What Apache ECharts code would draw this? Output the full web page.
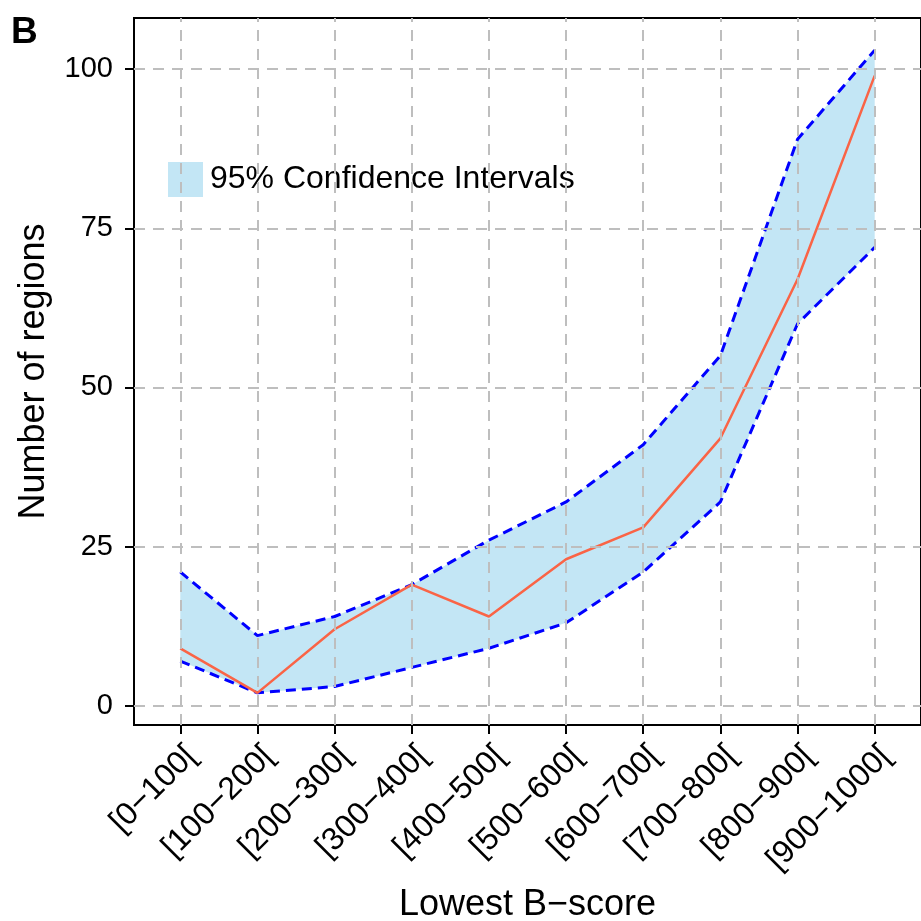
<!DOCTYPE html>
<html>
<head>
<meta charset="utf-8">
<script src="https://cdn.jsdelivr.net/npm/echarts@6/dist/echarts.min.js"></script>
<style>
  html, body { margin: 0; padding: 0; background: #fff; }
  #chart { width: 921px; height: 921px; }
</style>
</head>
<body>
<div id="chart"></div>
<script>
// Score bins and counts of regions per bin
const categories = ['[0−100[', '[100−200[', '[200−300[', '[300−400[', '[400−500[',
                    '[500−600[', '[600−700[', '[700−800[', '[800−900[', '[900−1000['];
const meanCount = [9, 2, 12, 19, 14, 23, 28, 42, 67, 99];
const ciLower   = [7, 2, 3, 6, 9, 13, 21, 32, 60, 72];
const ciUpper   = [21, 11, 14, 19, 26, 32, 41, 55, 89, 103];
const yTicks    = [0, 25, 50, 75, 100];
const bandName  = '95% Confidence Intervals';

const FONT = '"Liberation Sans", Arial, Helvetica, sans-serif';
const idx = categories.map((c, i) => i);
const pairs = arr => arr.map((v, i) => [i, v]);
const BAND_FILL = 'rgba(135,206,235,0.5)';

const chart = echarts.init(document.getElementById('chart'), null, { renderer: 'canvas' });

// Confidence band: one polygon along the upper bounds and back along the lower bounds
function renderBand(params, api) {
  if (params.dataIndex !== 0) return null;
  const top = idx.map(i => api.coord([i, ciUpper[i]]));
  const bottom = idx.slice().reverse().map(i => api.coord([i, ciLower[i]]));
  return {
    type: 'polygon',
    shape: { points: top.concat(bottom) },
    style: { fill: BAND_FILL, stroke: null },
    silent: true
  };
}

const option = {
  animation: false,
  backgroundColor: '#ffffff',
  title: {
    text: 'B', left: 11, top: 14, padding: 0,
    textStyle: { fontFamily: FONT, fontWeight: 'bold', fontSize: 37, color: '#000' }
  },
  legend: {
    data: [bandName],
    left: 168, top: 162, padding: 0,
    icon: 'rect', itemWidth: 35, itemHeight: 35,
    selectedMode: false,
    textStyle: { fontFamily: FONT, fontSize: 32, color: '#000', padding: [8, 0, 0, 2] }
  },
  grid: {
    left: 134, right: 0, top: 18, bottom: 196,
    containLabel: false, outerBoundsMode: 'none',
    show: true, borderColor: '#000', borderWidth: 2, backgroundColor: 'transparent'
  },
  xAxis: {
    type: 'value', min: -0.6, max: 9.6,
    name: 'Lowest B−score', nameLocation: 'middle', nameGap: 162,
    nameTextStyle: { fontFamily: FONT, fontSize: 36, color: '#000' },
    axisLine: { show: true, onZero: false, lineStyle: { color: '#000', width: 2 } },
    axisTick: { show: true, customValues: idx, length: 9, lineStyle: { color: '#000', width: 2 } },
    axisLabel: {
      customValues: idx,
      formatter: v => categories[Math.round(v)] || '',
      rotate: 45, margin: 15, verticalAlign: 'top', align: 'right',
      fontFamily: FONT, fontSize: 32, color: '#000'
    },
    splitLine: { show: false }
  },
  yAxis: {
    type: 'value', min: -3.05, max: 108.05,
    name: 'Number of regions', nameLocation: 'middle', nameGap: 82,
    nameTextStyle: { fontFamily: FONT, fontSize: 36, color: '#000' },
    axisLine: { show: true, onZero: false, lineStyle: { color: '#000', width: 2 } },
    axisTick: { show: true, customValues: yTicks, length: 9, lineStyle: { color: '#000', width: 2 } },
    axisLabel: { customValues: yTicks, margin: 21, fontFamily: FONT, fontSize: 29, color: '#000' },
    splitLine: { show: false }
  },
  series: [
    {
      // dashed background grid at every tick
      type: 'line', name: 'grid', data: [], z: 1, silent: true,
      markLine: {
        silent: true, symbol: ['none', 'none'], label: { show: false },
        lineStyle: { type: [11, 8], color: '#bebebe', width: 2 },
        emphasis: { disabled: true },
        data: idx.map(i => ({ xAxis: i })).concat(yTicks.map(v => ({ yAxis: v })))
      }
    },
    {
      type: 'custom', name: bandName, z: 2, silent: true,
      renderItem: renderBand,
      itemStyle: { color: BAND_FILL },
      data: idx.map(i => [i, ciLower[i], ciUpper[i]]),
      encode: { x: 0, y: [1, 2] }
    },
    {
      type: 'line', name: 'upper', data: pairs(ciUpper), z: 3,
      symbol: 'none', silent: true,
      lineStyle: { color: '#0000ff', width: 3, type: [10, 6] }
    },
    {
      type: 'line', name: 'lower', data: pairs(ciLower), z: 3,
      symbol: 'none', silent: true,
      lineStyle: { color: '#0000ff', width: 3, type: [10, 6] }
    },
    {
      type: 'line', name: 'mean', data: pairs(meanCount), z: 4,
      symbol: 'none', silent: true,
      lineStyle: { color: '#fa6446', width: 2.5 }
    }
  ]
};

chart.setOption(option);
</script>
</body>
</html>
